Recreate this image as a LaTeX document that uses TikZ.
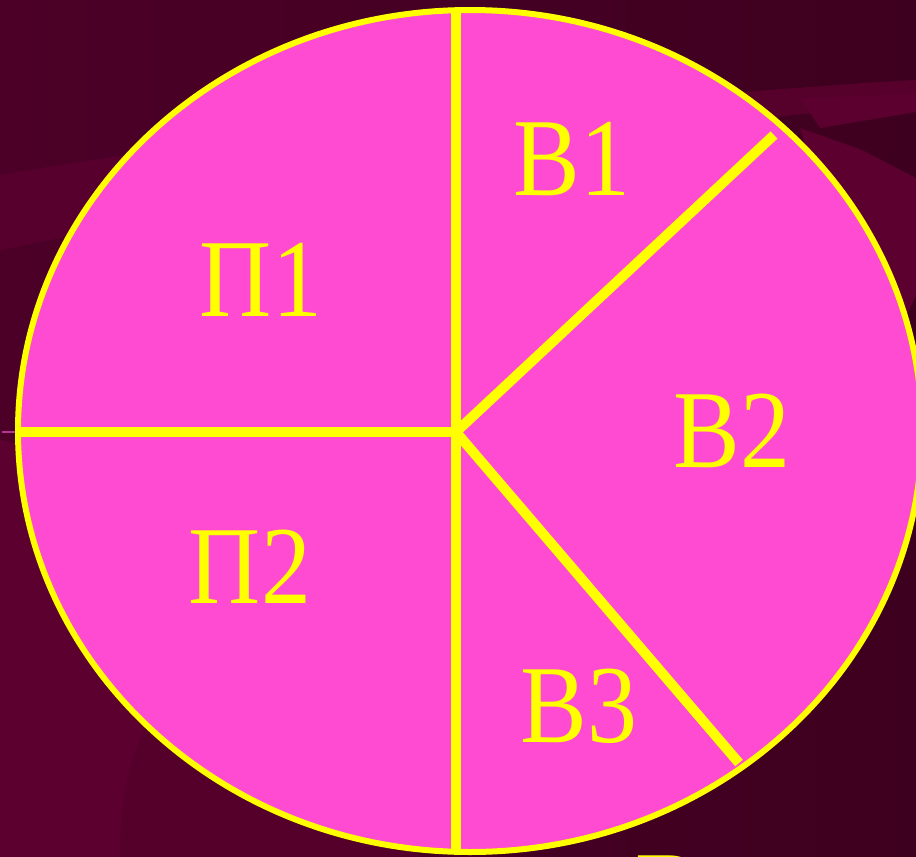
\documentclass[tikz,border=0pt]{standalone}
\usepackage{graphicx}
\usepackage{fontspec}
\setmainfont{Liberation Serif}
\definecolor{bgdark}{HTML}{4A0026}
\definecolor{bgdarker}{HTML}{3E001F}
\definecolor{bglight}{HTML}{5C002F}
\definecolor{piefill}{HTML}{FF4AD2}
\definecolor{pieline}{HTML}{FFFF00}
\newcommand{\pielabel}[1]{\scalebox{0.9}[1]{#1}}
\begin{document}
\begin{tikzpicture}[x=1pt,y=-1pt,
  divider/.style={draw=pieline,line width=10pt,line cap=butt},
  rim/.style={draw=pieline,line width=6pt},
  lbl/.style={text=pieline,font=\fontsize{111}{111}\selectfont,inner sep=0pt,anchor=base},
  band/.style={fill=bglight,draw=none}]
\useasboundingbox (0,0) rectangle (916,857);
% background
\shade[left color=bgdark!90!bglight,right color=bgdarker] (0,0) rectangle (916,857);
\fill[band,opacity=0.8] (0,175) .. controls (200,140) and (500,110) .. (700,95)
  .. controls (800,88) and (870,82) .. (916,80) -- (916,105)
  .. controls (700,115) and (300,190) .. (0,250) -- cycle;
\fill[band] (800,98) -- (916,94) -- (916,112) -- (820,128) -- cycle;
\fill[band] (800,128) -- (862,150) -- (916,178) -- (916,295) -- (900,330)
  -- (860,330) -- cycle;
\fill[band] (0,440) .. controls (60,450) and (120,480) .. (200,520) -- (420,857) -- (0,857) -- cycle;
\fill[bgdark,opacity=0.4] (120,857) .. controls (120,760) and (150,700) .. (200,650) -- (456,857) -- cycle;
% pie
\coordinate (c) at (456,432);
\coordinate (top) at (456,10);
\coordinate (bot) at (456,852);
\coordinate (lft) at (18,432);
\coordinate (tick) at (2,432);
\coordinate (e1) at (774,135);
\coordinate (e3) at (739,763);
\fill[piefill] (470,431) ellipse [x radius=452pt,y radius=421pt];
\draw[divider] (top) -- (bot);
\draw[divider] (lft) -- (c);
\draw[divider] (c) -- (e1);
\draw[divider] (c) -- (e3);
\draw[draw=piefill!70!black,line width=1.2pt] (tick) -- (lft);
\draw[rim] (470,431) ellipse [x radius=452pt,y radius=421pt];
% labels
\node[lbl] (p1) at (261,316) {\pielabel{П1}};
\node[lbl] (v1) at (572,195) {\pielabel{В1}};
\node[lbl] (v2) at (732,467) {\pielabel{В2}};
\node[lbl] (p2) at (250,603) {\pielabel{П2}};
\node[lbl] (v3) at (579,742) {\pielabel{В3}};
\node[lbl,anchor=base west] (vb) at (635,928) {\pielabel{В}};
\end{tikzpicture}
\end{document}
